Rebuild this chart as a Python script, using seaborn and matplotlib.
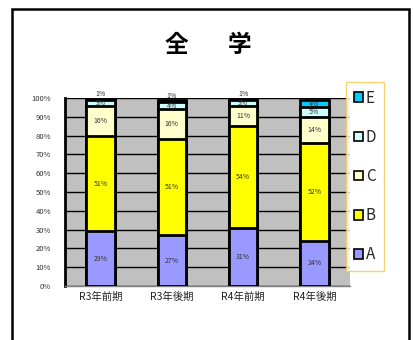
import matplotlib
matplotlib.use("Agg")
import matplotlib.pyplot as plt
from matplotlib.patches import Patch, Rectangle
import seaborn as sns
import pandas as pd
import numpy as np

categories = ["R3年前期", "R3年後期", "R4年前期", "R4年後期"]
grade_A = [29, 27, 31, 24]
grade_B = [51, 51, 54, 52]
grade_C = [16, 16, 11, 14]
grade_D = [3, 4, 3, 5]
grade_E = [1, 1, 1, 4]
series_names = ["A", "B", "C", "D", "E"]
series_vals = [grade_A, grade_B, grade_C, grade_D, grade_E]
colors = {"A": "#9999FF", "B": "#FFFF00", "C": "#FFFFCC", "D": "#CCFFFF", "E": "#00CCFF"}
yticks = list(range(0, 101, 10))
title_chars = ["全", "学"]

sns.set_theme(style="white")
plt.rcParams["font.family"] = ["Noto Sans CJK JP", "DejaVu Sans"]

fig = plt.figure(figsize=(4.14, 3.40), dpi=100)
ax = fig.add_axes([65/414, 54/340, 285/414, 188/340])
ax.set_facecolor("#C0C0C0")

# stacked via cumulative totals, drawn from top to bottom
vals = np.array(series_vals, dtype=float)
cum = np.cumsum(vals, axis=0)
for i in range(len(series_names) - 1, -1, -1):
    df = pd.DataFrame({"cat": categories, "val": cum[i]})
    sns.barplot(data=df, x="cat", y="val", color=colors[series_names[i]],
                saturation=1, width=0.4, edgecolor="black", linewidth=2,
                ax=ax, zorder=3)

# value labels
for i, name in enumerate(series_names):
    for j in range(len(categories)):
        v = vals[i, j]
        center = cum[i, j] - v / 2
        if name == "E" and v <= 2:
            center = cum[i, j] + 2.2
        ax.text(j, center, f"{int(v)}%", ha="center", va="center",
                fontsize=5, color="#333333", zorder=5, clip_on=False)

ax.set_ylim(0, 100)
ax.set_xlim(-0.5, len(categories) - 0.5)
ax.set_yticks(yticks)
ax.set_yticklabels([f"{t}%" for t in yticks], fontsize=5.5, color="#333333")
ax.set_xticks(range(len(categories)))
ax.set_xticklabels(categories, fontsize=7.5, color="#222222")
ax.set_xticks([0.5, 1.5, 2.5], minor=True)
ax.set_xlabel("")
ax.set_ylabel("")
ax.yaxis.grid(True, color="black", linewidth=1, zorder=0)
ax.set_axisbelow(True)
ax.tick_params(axis="both", which="major", length=0, pad=4)
ax.tick_params(axis="x", which="minor", length=3, direction="in",
               color="#333333", width=1)
ax.tick_params(axis="y", pad=10)
for s in ["top", "right"]:
    ax.spines[s].set_visible(False)
ax.spines["left"].set_color("black")
ax.spines["left"].set_linewidth(2)
ax.spines["bottom"].set_color("#808080")
ax.spines["bottom"].set_linewidth(1)

# legend
handles = [Patch(facecolor=colors[n], edgecolor="black", linewidth=1.2, label=n)
           for n in reversed(series_names)]
leg = fig.legend(handles=handles, loc="upper left",
                 bbox_to_anchor=(346/414, 1 - 82/340), frameon=True,
                 fontsize=11, handlelength=0.6, handleheight=0.6,
                 handletextpad=0.2, labelspacing=1.45, borderpad=0.5,
                 borderaxespad=0, fancybox=False)
leg.get_frame().set_edgecolor("#F2C94C")
leg.get_frame().set_linewidth(1)
leg.get_frame().set_facecolor("white")

# title (two widely spaced characters)
for ch, xp in zip(title_chars, [176/414, 240/414]):
    fig.text(xp, 1 - 45/340, ch, ha="center", va="center",
             fontsize=17, fontweight="bold", color="black")

# outer frame
fig.patches.append(Rectangle((12/414, -0.02), 397/414, 1 - 9/340 + 0.02,
                             transform=fig.transFigure, fill=False,
                             edgecolor="black", linewidth=1.8))

fig.savefig("out.png", dpi=100)
